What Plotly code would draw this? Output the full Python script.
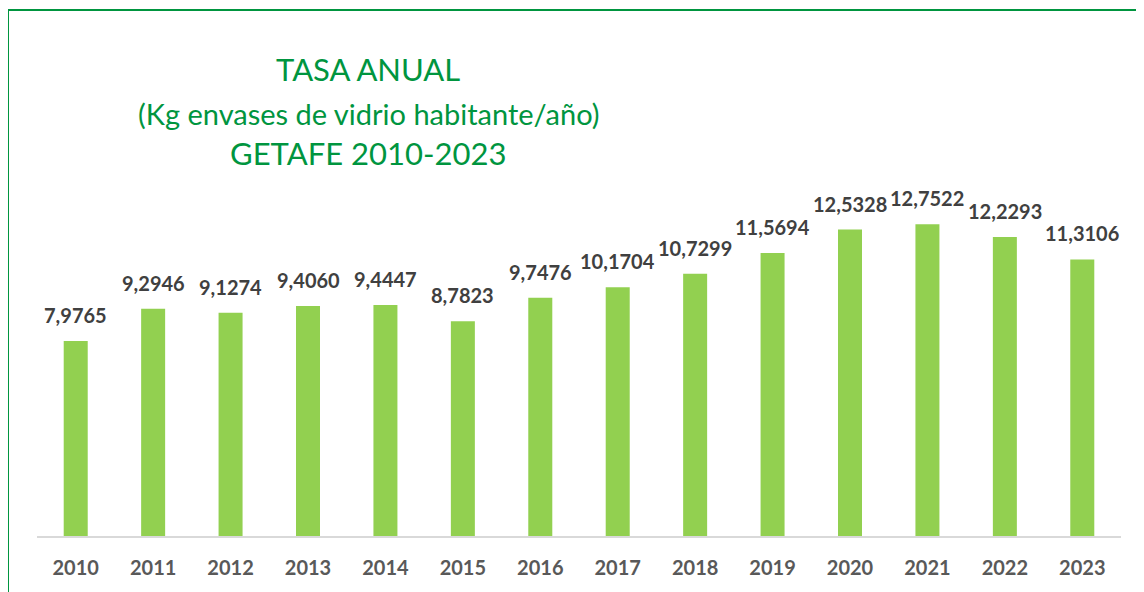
import plotly.graph_objs as go

# datos
anios = ["2010", "2011", "2012", "2013", "2014", "2015", "2016",
         "2017", "2018", "2019", "2020", "2021", "2022", "2023"]
tasa = [7.9765, 9.2946, 9.1274, 9.4060, 9.4447, 8.7823, 9.7476,
        10.1704, 10.7299, 11.5694, 12.5328, 12.7522, 12.2293, 11.3106]

# la pagina deja 8px de margen alrededor de la figura
OFF = 8
W, H = 1144 - OFF, 592 - OFF
ML, MR, MT, MB = 37 - OFF, 23, 180 - OFF, 56
VERDE = "#00953F"


def px_x(p):
    # pixel de la ventana -> coordenada paper
    return (p - OFF - ML) / (W - ML - MR)


def px_y(p):
    return (H - MB - (p - OFF)) / (H - MB - MT)


fig = go.Figure(
    data=[
        go.Bar(
            x=anios,
            y=tasa,
            marker_color="#92D050",
            marker_line_width=0,
            width=0.31,
        )
    ]
)

# etiquetas de valor encima de cada barra (eje de categorias: indice de la categoria)
for i, valor in enumerate(tasa):
    fig.add_annotation(
        x=i,
        y=valor,
        text=f"{valor:.4f}".replace(".", ","),
        showarrow=False,
        xanchor="center",
        yanchor="bottom",
        yshift=12,
        font=dict(family="Lato", size=20, color="#404040", weight="bold"),
    )

fig.update_layout(
    width=W,
    height=H,
    margin=dict(l=ML, r=MR, t=MT, b=MB),
    plot_bgcolor="white",
    paper_bgcolor="white",
    showlegend=False,
)

fig.update_yaxes(range=[0, 14.56], visible=False, showgrid=False)
fig.update_xaxes(
    type="category",
    range=[-0.5, len(anios) - 0.5],
    showline=True,
    linecolor="#D9D9D9",
    linewidth=2,
    ticks="outside",
    ticklen=13,
    tickcolor="rgba(0,0,0,0)",
    tickfont=dict(family="Lato", size=20, color="#595959", weight="bold"),
)

# titulo
titulos = [("TASA ANUAL", 31, 69), ("(Kg envases de vidrio habitante/año)", 29, 113),
           ("GETAFE 2010-2023", 31, 153)]
for texto, size, y in titulos:
    fig.add_annotation(
        text=texto,
        x=px_x(368),
        y=px_y(y),
        xref="paper",
        yref="paper",
        xanchor="center",
        yanchor="middle",
        showarrow=False,
        font=dict(family="Lato", size=size, color=VERDE),
    )

# marco verde
fig.add_shape(type="line", xref="paper", yref="paper",
              x0=px_x(8), x1=px_x(1150), y0=px_y(10), y1=px_y(10),
              line=dict(color=VERDE, width=2))
fig.add_shape(type="line", xref="paper", yref="paper",
              x0=px_x(8), x1=px_x(8), y0=px_y(10), y1=px_y(600),
              line=dict(color=VERDE, width=2))

fig.write_html("out.html")
